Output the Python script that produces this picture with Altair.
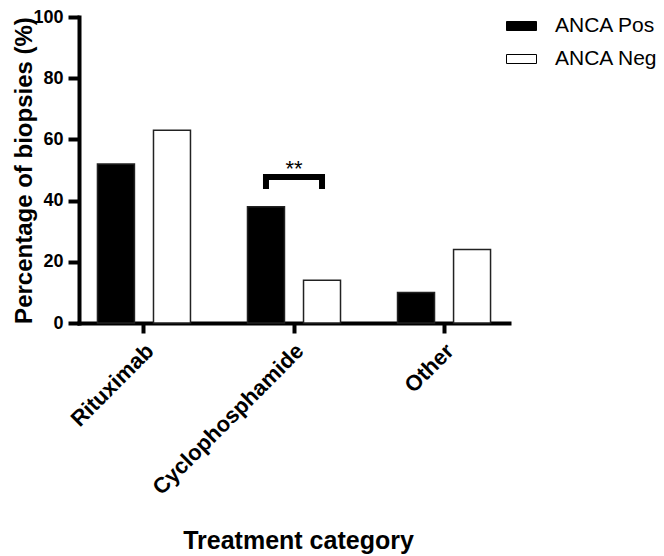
import altair as alt
import pandas as pd

# ---- data ----
categories = ["Rituximab", "Cyclophosphamide", "Other"]
groups = ["ANCA Pos", "ANCA Neg"]
anca_pos = [52, 38, 10]
anca_neg = [63, 14, 24]

sig_category = "Cyclophosphamide"
sig_label = "**"
bracket_groups = ["ANCA Pos", "ANCA Pos", "ANCA Neg", "ANCA Neg"]
bracket_values = [43.8, 47.7, 47.7, 43.8]
sig_label_value = 48.0

rows = []
for c, p, n in zip(categories, anca_pos, anca_neg):
    rows.append({"category": c, "group": groups[0], "value": p})
    rows.append({"category": c, "group": groups[1], "value": n})
bars_df = pd.DataFrame(rows)

bracket_df = pd.DataFrame({
    "category": [sig_category] * len(bracket_groups),
    "group": bracket_groups,
    "value": bracket_values,
    "order": list(range(len(bracket_groups))),
})
label_df = pd.DataFrame({"category": [sig_category], "value": [sig_label_value], "label": [sig_label]})

FONT = "Liberation Sans"

x_enc = alt.X(
    "category:N",
    sort=categories,
    scale=alt.Scale(domain=categories, paddingInner=0.38, paddingOuter=0.123),
    axis=alt.Axis(
        title="Treatment category",
        labelAngle=-45,
        labelAlign="right",
        labelBaseline="middle",
        labelFontSize=22,
        labelPadding=14,
        labelOffset=6,
        labelLimit=600,
        tickSize=10,
        titleFontSize=25,
        titleBaseline="top",
        titleY=205,
        titleX=219,
    ),
)
y_enc = alt.Y(
    "value:Q",
    scale=alt.Scale(domain=[0, 100], nice=False),
    axis=alt.Axis(
        title="Percentage of biopsies (%)",
        values=[0, 20, 40, 60, 80, 100],
        tickSize=11,
        labelFontSize=18,
        labelPadding=5,
        titleFontSize=24,
        titleX=-48,
        titleBaseline="alphabetic",
        titleAngle=270,
    ),
)
xoff_enc = alt.XOffset(
    "group:N", sort=groups,
    scale=alt.Scale(domain=groups, paddingInner=0.34, paddingOuter=0),
)

bars = alt.Chart(bars_df).mark_bar(stroke="#222222", strokeWidth=1.5).encode(
    x=x_enc,
    xOffset=xoff_enc,
    y=y_enc,
    fill=alt.Fill(
        "group:N",
        sort=groups,
        scale=alt.Scale(domain=groups, range=["#000000", "#ffffff"]),
        legend=alt.Legend(
            title=None,
            orient="none",
            legendX=427,
            legendY=-6.5,
            symbolType="M-1,-0.3H1V0.3H-1Z",
            symbolSize=900,
            symbolStrokeColor="#000000",
            symbolStrokeWidth=1,
            labelFontSize=21,
            labelFont=FONT,
            labelFontWeight="normal",
            labelColor="#000000",
            labelOffset=18,
            labelLimit=300,
            rowPadding=7,
            padding=0,
        ),
    ),
)

bracket = alt.Chart(bracket_df).mark_line(
    color="#000000", strokeWidth=6, strokeCap="butt", strokeJoin="miter"
).encode(
    x=x_enc,
    xOffset=xoff_enc,
    y=y_enc,
    order="order:Q",
)

stars = alt.Chart(label_df).mark_text(
    font=FONT, fontSize=22, color="#000000", baseline="alphabetic", align="center"
).encode(
    x=x_enc,
    y=y_enc,
    text="label:N",
)

chart = (
    alt.layer(bars, bracket, stars)
    .properties(
        width=430,
        height=306,
        autosize=alt.AutoSizeParams(type="none"),
        padding={"left": 71, "top": 9, "right": 147, "bottom": 233},
        background="white",
    )
    .configure_view(stroke=None)
    .configure_axis(
        domainWidth=4,
        domainColor="#000000",
        domainCap="square",
        tickWidth=4,
        tickColor="#000000",
        labelColor="#000000",
        titleColor="#000000",
        labelFont=FONT,
        titleFont=FONT,
        labelFontWeight="bold",
        titleFontWeight="bold",
        grid=False,
    )
)

chart.save("out.html", embed_options={"renderer": "svg", "actions": False})
